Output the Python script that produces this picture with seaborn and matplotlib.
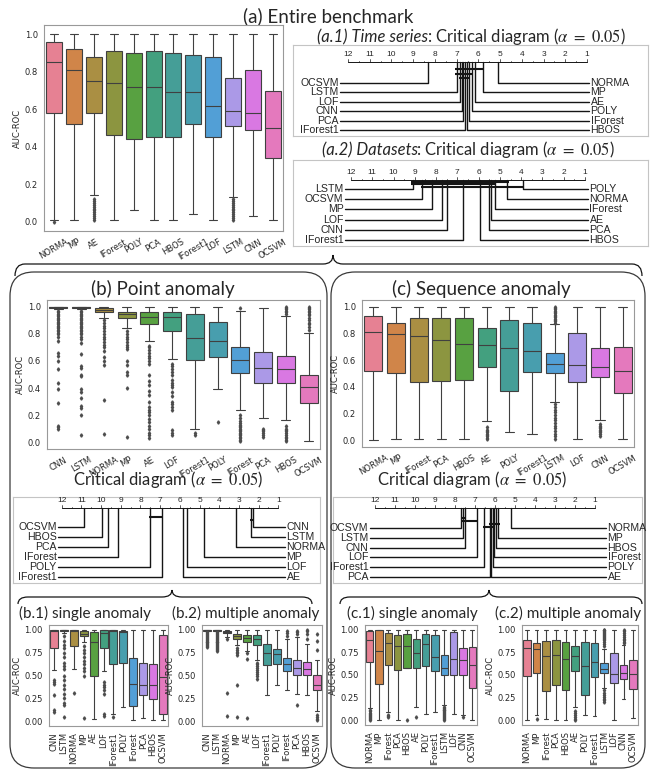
import numpy as np
import pandas as pd
import matplotlib
matplotlib.use("Agg")
import matplotlib.pyplot as plt
import seaborn as sns
from matplotlib.patches import FancyBboxPatch, PathPatch
from matplotlib.path import Path

sns.set_style("white")
plt.rcParams["font.family"] = ["DejaVu Sans"]
plt.rcParams["mathtext.fontset"] = "stix"

W, H = 652, 772
TF = "Lato"             # titles
CDF = "Liberation Sans"  # critical diagram labels
LC = "#151515"

# ---------------- box statistics ----------------
# (a) entire benchmark
a_methods = ["NORMA", "MP", "AE", "IForest", "POLY", "PCA", "HBOS", "IForest1", "LOF", "LSTM", "CNN", "OCSVM"]
a_lo = [0.01, 0.01, 0.14, 0.01, 0.06, 0.01, 0.01, 0.04, 0.01, 0.13, 0.03, 0.01]
a_q1 = [0.58, 0.52, 0.58, 0.46, 0.44, 0.45, 0.45, 0.52, 0.45, 0.51, 0.49, 0.34]
a_med = [0.85, 0.81, 0.75, 0.74, 0.72, 0.72, 0.69, 0.69, 0.62, 0.59, 0.58, 0.50]
a_q3 = [0.96, 0.92, 0.88, 0.91, 0.90, 0.91, 0.90, 0.89, 0.88, 0.765, 0.81, 0.70]
a_hi = [1.0] * 12
a_out = [[0.0], [], [0.12, 0.11, 0.1, 0.09, 0.08, 0.07, 0.06, 0.05, 0.04, 0.03, 0.02, 0.01],
         [], [], [], [], [], [], [0.12, 0.11, 0.1, 0.09, 0.08, 0.07, 0.06, 0.05, 0.04, 0.03, 0.02, 0.01], [], []]

# (b) point anomaly
b_methods = ["CNN", "LSTM", "NORMA", "MP", "AE", "LOF", "IForest1", "POLY", "IForest", "PCA", "HBOS", "OCSVM"]
b_lo = [0.98, 0.98, 0.92, 0.845, 0.75, 0.615, 0.10, 0.39, 0.24, 0.18, 0.165, 0.01]
b_q1 = [0.99, 0.99, 0.958, 0.914, 0.87, 0.82, 0.604, 0.629, 0.514, 0.44, 0.44, 0.292]
b_med = [0.997, 0.996, 0.975, 0.944, 0.921, 0.921, 0.771, 0.744, 0.604, 0.55, 0.54, 0.41]
b_q3 = [1.0, 1.0, 0.99, 0.963, 0.958, 0.958, 0.943, 0.885, 0.70, 0.663, 0.639, 0.50]
b_hi = [1.0, 1.0, 1.0, 1.0, 1.0, 1.0, 1.0, 1.0, 0.97, 0.99, 0.929, 0.81]
b_out = [
    [0.97, 0.96, 0.95, 0.94, 0.93, 0.92, 0.91, 0.9, 0.89, 0.88, 0.87, 0.86, 0.85, 0.84, 0.83, 0.82, 0.81, 0.8,
     0.78, 0.75, 0.66, 0.64, 0.6, 0.54, 0.44, 0.39, 0.29, 0.12, 0.11, 0.1],
    [0.97, 0.96, 0.95, 0.94, 0.93, 0.92, 0.91, 0.9, 0.89, 0.88, 0.87, 0.86, 0.85, 0.84, 0.83, 0.82, 0.81, 0.8,
     0.78, 0.76, 0.73, 0.65, 0.56, 0.55, 0.5, 0.49, 0.39, 0.37, 0.33, 0.27, 0.25, 0.2, 0.05],
    [0.9, 0.88, 0.86, 0.84, 0.82, 0.8, 0.78, 0.76, 0.74, 0.72, 0.7, 0.67, 0.63, 0.6, 0.57, 0.31, 0.06],
    [0.82, 0.8, 0.78, 0.76, 0.74, 0.72, 0.7, 0.69, 0.6, 0.57, 0.52, 0.5, 0.4, 0.04],
    [0.71, 0.7, 0.68, 0.66, 0.64, 0.62, 0.6, 0.58, 0.5, 0.45, 0.42, 0.38, 0.35, 0.3, 0.26, 0.24, 0.22, 0.2,
     0.17, 0.15, 0.12, 0.1, 0.07, 0.05, 0.03],
    [0.58, 0.56, 0.54, 0.52, 0.5, 0.46, 0.44, 0.42, 0.41, 0.37, 0.34, 0.3, 0.28, 0.26, 0.24, 0.09, 0.07, 0.05],
    [0.07, 0.05],
    [0.15],
    [0.99, 0.2, 0.18, 0.16, 0.14, 0.13, 0.12, 0.11, 0.1, 0.09, 0.08, 0.07, 0.06, 0.05, 0.04, 0.03, 0.02, 0.01],
    [0.1, 0.09, 0.08, 0.07, 0.05, 0.04],
    [1.0, 0.99, 0.98, 0.97, 0.96, 0.95, 0.12, 0.1, 0.09, 0.08, 0.07, 0.05, 0.04, 0.03, 0.02, 0.01],
    [1.0, 0.99, 0.98, 0.97, 0.96, 0.95, 0.94, 0.92, 0.9, 0.88, 0.87, 0.85, 0.83],
]

# (c) sequence anomaly
c_methods = ["NORMA", "MP", "IForest", "PCA", "HBOS", "AE", "POLY", "IForest1", "LSTM", "LOF", "CNN", "OCSVM"]
c_lo = [0.0, 0.01, 0.01, 0.01, 0.01, 0.142, 0.06, 0.045, 0.286, 0.01, 0.15, 0.01]
c_q1 = [0.52, 0.50, 0.433, 0.445, 0.453, 0.552, 0.366, 0.512, 0.502, 0.435, 0.473, 0.353]
c_med = [0.813, 0.793, 0.781, 0.754, 0.724, 0.711, 0.694, 0.667, 0.572, 0.562, 0.545, 0.522]
c_q3 = [0.93, 0.88, 0.918, 0.918, 0.918, 0.838, 0.90, 0.88, 0.652, 0.80, 0.689, 0.70]
c_hi = [1.0, 1.0, 1.0, 1.0, 1.0, 1.0, 1.0, 1.0, 0.871, 1.0, 1.0, 1.0]
c_out = [[], [], [], [], [], [0.1, 0.08, 0.07, 0.06, 0.05, 0.04, 0.03, 0.02, 0.01], [], [],
         [1.0, 0.99, 0.98, 0.97, 0.96, 0.95, 0.94, 0.93, 0.92, 0.91, 0.9, 0.89, 0.88,
          0.27, 0.25, 0.23, 0.21, 0.19, 0.17, 0.15, 0.13, 0.11, 0.09, 0.07, 0.05, 0.03, 0.01],
         [], [0.12, 0.11, 0.1, 0.09, 0.08, 0.07, 0.06, 0.05, 0.03], []]

# (b.1) point, single anomaly
b1_lo = [0.564, 0.965, 0.575, 0.86, 0.03, 0.545, 0.08, 0.156, 0.01, 0.04, 0.01, 0.01]
b1_q1 = [0.80, 0.982, 0.82, 0.927, 0.50, 0.80, 0.629, 0.636, 0.164, 0.284, 0.247, 0.084]
b1_med = [0.99, 0.995, 0.98, 0.957, 0.865, 0.964, 0.98, 0.975, 0.41, 0.393, 0.40, 0.484]
b1_q3 = [1.0, 1.0, 1.0, 0.98, 0.975, 1.0, 1.0, 0.985, 0.695, 0.64, 0.622, 0.945]
b1_hi = [1.0] * 12
b1_out = [[0.45, 0.43, 0.41, 0.29, 0.12, 0.1],
          [0.93, 0.88, 0.83, 0.8, 0.75, 0.7, 0.64, 0.6, 0.57, 0.5, 0.45, 0.4, 0.35, 0.3, 0.25, 0.2, 0.18, 0.05],
          [0.31], [0.82, 0.78, 0.74, 0.7, 0.66, 0.62, 0.58, 0.55, 0.5, 0.04], [],
          [0.43, 0.4, 0.37, 0.34, 0.3, 0.08, 0.06], [0.05], [], [], [], [], []]

# (b.2) point, multiple anomaly
b2_lo = [0.98, 0.98, 0.92, 0.83, 0.77, 0.67, 0.284, 0.393, 0.345, 0.30, 0.29, 0.11]
b2_q1 = [0.99, 0.99, 0.958, 0.90, 0.866, 0.83, 0.61, 0.63, 0.55, 0.502, 0.502, 0.338]
b2_med = [0.997, 0.996, 0.975, 0.927, 0.913, 0.90, 0.745, 0.738, 0.629, 0.585, 0.575, 0.393]
b2_q3 = [1.0, 1.0, 0.99, 0.955, 0.94, 0.94, 0.847, 0.793, 0.695, 0.673, 0.647, 0.51]
b2_hi = [1.0, 1.0, 1.0, 1.0, 1.0, 1.0, 1.0, 1.0, 0.90, 0.92, 0.847, 0.665]
b2_out = [[0.97, 0.96, 0.95, 0.94, 0.93, 0.92, 0.91, 0.9, 0.89, 0.88, 0.87, 0.86, 0.85, 0.84, 0.83, 0.82, 0.81],
          [0.97, 0.96, 0.95, 0.94, 0.93, 0.92, 0.91, 0.9, 0.89, 0.88, 0.87, 0.86, 0.85, 0.84, 0.83, 0.82, 0.81,
           0.8, 0.79, 0.78, 0.77],
          [0.9, 0.31, 0.06], [0.8, 0.78, 0.76, 0.74, 0.72, 0.4, 0.05], [0.74, 0.68, 0.04],
          [0.64, 0.62, 0.6, 0.58, 0.56, 0.54, 0.52, 0.5, 0.46], [], [], [0.98, 0.96, 0.93],
          [0.99, 0.97, 0.95, 0.18], [1.0, 0.98, 0.95, 0.9], [0.95, 0.88, 0.78, 0.07, 0.05, 0.03, 0.01]]

# (c.1) sequence, single anomaly
c1_lo = [0.135, 0.01, 0.095, 0.01, 0.01, 0.147, 0.074, 0.092, 0.17, 0.074, 0.055, 0.01]
c1_q1 = [0.643, 0.404, 0.614, 0.559, 0.58, 0.58, 0.60, 0.544, 0.496, 0.496, 0.50, 0.36]
c1_med = [0.882, 0.76, 0.853, 0.82, 0.82, 0.746, 0.846, 0.70, 0.58, 0.68, 0.662, 0.607]
c1_q3 = [0.985, 0.99, 0.963, 0.945, 0.956, 0.90, 0.956, 0.937, 0.717, 0.974, 0.80, 0.81]
c1_hi = [1.0] * 12
c1_out = [[0.11, 0.1, 0.08, 0.07, 0.06, 0.05, 0.04, 0.03, 0.02, 0.01], [], [0.06, 0.05, 0.04], [], [],
          [0.04], [], [],
          [0.15, 0.14, 0.13, 0.12, 0.11, 0.1, 0.09, 0.08, 0.07, 0.06, 0.05, 0.04, 0.03, 0.02, 0.01],
          [], [0.04], []]

# (c.2) sequence, multiple anomaly
c2_lo = [0.0, 0.055, 0.02, 0.01, 0.01, 0.147, 0.062, 0.044, 0.36, 0.01, 0.24, 0.03]
c2_q1 = [0.485, 0.522, 0.32, 0.386, 0.331, 0.544, 0.283, 0.478, 0.522, 0.412, 0.46, 0.349]
c2_med = [0.80, 0.79, 0.706, 0.724, 0.68, 0.71, 0.596, 0.643, 0.566, 0.515, 0.522, 0.507]
c2_q3 = [0.89, 0.853, 0.871, 0.89, 0.864, 0.816, 0.864, 0.857, 0.632, 0.743, 0.614, 0.669]
c2_hi = [1.0, 1.0, 1.0, 1.0, 1.0, 1.0, 1.0, 1.0, 0.79, 1.0, 0.83, 1.0]
c2_out = [[], [0.02], [], [], [], [0.1, 0.08, 0.06, 0.04, 0.02, 0.01], [], [],
          [1.0, 0.99, 0.98, 0.97, 0.96, 0.95, 0.94, 0.93, 0.92, 0.91, 0.9, 0.88, 0.86, 0.84, 0.82,
           0.33, 0.3, 0.28, 0.26, 0.24, 0.22, 0.2],
          [], [1.0, 0.98, 0.96, 0.94, 0.92, 0.9, 0.88, 0.86, 0.85], []]

# ---------------- critical diagrams: average ranks ----------------
a1_left = ["OCSVM", "LSTM", "LOF", "CNN", "PCA", "IForest1"]
a1_left_rank = [8.3, 7.0, 6.85, 6.77, 6.7, 6.62]
a1_right = ["NORMA", "MP", "AE", "POLY", "IForest", "HBOS"]
a1_right_rank = [5.1, 5.8, 6.15, 6.3, 6.45, 6.53]
a1_cliques = [(7.0, 5.8), (7.0, 6.3), (6.85, 6.45)]

a2_left = ["LSTM", "OCSVM", "MP", "LOF", "CNN", "IForest1"]
a2_left_rank = [9.1, 8.66, 8.2, 7.73, 7.5, 6.75]
a2_right = ["POLY", "NORMA", "IForest", "AE", "PCA", "HBOS"]
a2_right_rank = [3.92, 4.65, 5.24, 5.4, 5.5, 5.94]
a2_cliques = [(9.1, 4.65), (9.1, 5.24), (8.66, 3.92)]

bc_left = ["OCSVM", "HBOS", "PCA", "IForest", "POLY", "IForest1"]
bc_left_rank = [10.85, 9.97, 9.63, 9.13, 7.52, 6.92]
bc_right = ["CNN", "LSTM", "NORMA", "MP", "LOF", "AE"]
bc_right_rank = [2.27, 2.4, 3.15, 4.78, 5.66, 5.83]
bc_cliques = [(7.52, 6.92), (2.4, 2.27)]

cc_left = ["OCSVM", "LSTM", "CNN", "LOF", "IForest1", "PCA"]
cc_left_rank = [7.7, 7.58, 7.5, 6.92, 6.55, 6.25]
cc_right = ["NORMA", "MP", "HBOS", "IForest", "POLY", "AE"]
cc_right_rank = [5.2, 5.83, 5.97, 6.05, 6.12, 6.18]
cc_cliques = [(7.58, 7.5), (7.58, 6.92), (6.25, 5.83), (6.55, 6.05)]

palette = sns.color_palette("husl", 12)


def rect(x0, y0, x1, y1):
    return [x0 / W, 1 - y1 / H, (x1 - x0) / W, (y1 - y0) / H]


def expand(lo, q1, med, q3, hi, out):
    # sample whose quartiles / whiskers / fliers reproduce the read box
    below = sorted([lo] + [v for v in out if v < q1])
    above = sorted([hi] + [v for v in out if v > q3])
    k = max(len(below), len(above)) + 1
    return (below + [q1] * (k - len(below)) + [q1] + [med] * (2 * k - 1)
            + [q3] + [q3] * (k - len(above)) + above)


def draw_box(box, methods, lo, q1, med, q3, hi, out, small=False):
    rows = []
    for i, m in enumerate(methods):
        for v in expand(lo[i], q1[i], med[i], q3[i], hi[i], out[i]):
            rows.append((m, v))
    df = pd.DataFrame(rows, columns=["method", "auc"])
    ax = fig.add_axes(rect(*box))
    sns.boxplot(data=df, x="method", y="auc", hue="method", order=methods, hue_order=methods,
                palette=palette, legend=False, ax=ax, linewidth=0.8, fliersize=1.7, saturation=0.75,
                flierprops=dict(marker="d", markerfacecolor="0.3", markeredgecolor="0.3"))
    ax.set_xlabel("")
    ax.set_ylabel("AUC-ROC", fontsize=6, labelpad=2)
    ax.set_ylim(-0.05, 1.05)
    if small:
        ax.set_yticks([0, 0.25, 0.5, 0.75, 1.0])
        ax.set_yticklabels(["0.00", "0.25", "0.50", "0.75", "1.00"])
        ax.tick_params(axis="x", labelrotation=90)
    else:
        ax.set_yticks([0, 0.2, 0.4, 0.6, 0.8, 1.0])
        ax.set_yticklabels(["0.0", "0.2", "0.4", "0.6", "0.8", "1.0"])
        ax.tick_params(axis="x", labelrotation=30)
    ax.tick_params(labelsize=6, pad=1)
    for s in ax.spines.values():
        s.set_color("0.6")
        s.set_linewidth(0.8)
    return ax


def draw_cd(box, x12, x1, axis_y, row0, step, lnames, lranks, rnames, rranks,
            cliques, cl_y0, cl_step, lend, rend):
    L, T, R, B = box
    ax = fig.add_axes(rect(L, T, R, B))
    sp = (x1 - x12) / 11
    ax.set_xlim(12 + (x12 - L) / sp, 1 - (R - x1) / sp)
    ax.set_ylim(B, T)
    ax.set_xticks([])
    ax.set_yticks([])
    for s in ax.spines.values():
        s.set_color("#c4c4c4")
        s.set_linewidth(0.8)
    ax.plot([12, 1], [axis_y, axis_y], color=LC, lw=0.7)
    for r in np.arange(1, 12.01, 0.5):
        tl = 2.8 if r == int(r) else 1.5
        ax.plot([r, r], [axis_y, axis_y - tl], color=LC, lw=0.5)
    for r in range(1, 13):
        ax.text(r, axis_y - 3.5, str(r), ha="center", va="bottom", fontsize=6, family=CDF)
    left_end = 12 + (x12 - lend) / sp
    right_end = 1 - (rend - x1) / sp
    for i, (n, r) in enumerate(zip(lnames, lranks)):
        y = row0 + i * step
        ax.plot([r, r, left_end], [axis_y, y, y], color=LC, lw=1.0)
        ax.text(left_end + 1.5 / sp, y, n, ha="right", va="center", fontsize=7.6, family=CDF)
    for i, (n, r) in enumerate(zip(rnames, rranks)):
        y = row0 + i * step
        ax.plot([r, r, right_end], [axis_y, y, y], color=LC, lw=1.0)
        ax.text(right_end - 1.5 / sp, y, n, ha="left", va="center", fontsize=7.6, family=CDF)
    for i, (a, b) in enumerate(cliques):
        y = cl_y0 + i * cl_step
        ax.plot([a + 0.06, b - 0.06], [y, y], color=LC, lw=1.5, solid_capstyle="butt")
    return ax


def brace(ax, x0, x1, xm, y_end, y_body, y_tip, r=10):
    verts = [(x0, y_end), (x0, y_body), (x0 + r, y_body),
             (xm - r, y_body), (xm, y_body), (xm, y_tip),
             (xm, y_body), (xm + r, y_body),
             (x1 - r, y_body), (x1, y_body), (x1, y_end)]
    codes = [Path.MOVETO, Path.CURVE3, Path.CURVE3,
             Path.LINETO, Path.CURVE3, Path.CURVE3,
             Path.CURVE3, Path.CURVE3,
             Path.LINETO, Path.CURVE3, Path.CURVE3]
    ax.add_patch(PathPatch(Path(verts, codes), fill=False, color=LC, lw=0.9))


def title_pair(ax, x, y, it, rest, size):
    rend = fig.canvas.get_renderer()
    t1 = ax.text(0, y, it, fontsize=size, family=TF, style="italic", va="baseline")
    t2 = ax.text(0, y, rest, fontsize=size, family=TF, va="baseline")
    w1 = t1.get_window_extent(rend).width
    w2 = t2.get_window_extent(rend).width
    x0 = x - (w1 + w2) / 2
    t1.set_x(x0)
    t2.set_x(x0 + w1 - 1.5)


fig = plt.figure(figsize=(W / 100, H / 100), dpi=100)
bg = fig.add_axes([0, 0, 1, 1])
bg.set_xlim(0, W)
bg.set_ylim(H, 0)
bg.axis("off")

CD = r"Critical diagram ($\alpha\ =\ 0.05$)"

# frames and braces
for x0, x1 in [(10, 327), (331, 645)]:
    bg.add_patch(FancyBboxPatch((x0, 272), x1 - x0, 496, boxstyle="round,pad=0,rounding_size=24",
                                fill=False, ec="#3a3a3a", lw=0.9))
brace(bg, 15, 642, 333, 276, 264, 255)
brace(bg, 18, 312, 172, 604, 597, 590)
brace(bg, 340, 642, 489, 604, 597, 590)

# titles
bg.text(328, 16, "(a) Entire benchmark", ha="center", va="center", fontsize=13.5, family=TF)
title_pair(bg, 472, 42, "(a.1) Time series", ": " + CD, 12)
title_pair(bg, 469, 155, "(a.2) Datasets", ": " + CD, 12)
bg.text(163, 289, "(b) Point anomaly", ha="center", va="center", fontsize=13.5, family=TF)
bg.text(481, 289, "(c) Sequence anomaly", ha="center", va="center", fontsize=13.5, family=TF)
bg.text(168, 485, CD, ha="center", va="baseline", fontsize=12, family=TF)
bg.text(472, 485, CD, ha="center", va="baseline", fontsize=12, family=TF)
bg.text(85, 613, "(b.1) single anomaly", ha="center", va="center", fontsize=11, family=TF)
bg.text(246, 613, "(b.2) multiple anomaly", ha="center", va="center", fontsize=11, family=TF)
bg.text(412, 613, "(c.1) single anomaly", ha="center", va="center", fontsize=11, family=TF)
bg.text(568, 613, "(c.2) multiple anomaly", ha="center", va="center", fontsize=11, family=TF)

# boxplots
draw_box((44, 25, 283, 231), a_methods, a_lo, a_q1, a_med, a_q3, a_hi, a_out)
draw_box((47, 300, 320, 449), b_methods, b_lo, b_q1, b_med, b_q3, b_hi, b_out)
draw_box((362, 300, 634, 447), c_methods, c_lo, c_q1, c_med, c_q3, c_hi, c_out)
draw_box((49, 625, 168, 726), b_methods, b1_lo, b1_q1, b1_med, b1_q3, b1_hi, b1_out, small=True)
draw_box((202, 625, 322, 726), b_methods, b2_lo, b2_q1, b2_med, b2_q3, b2_hi, b2_out, small=True)
draw_box((365, 625, 477, 725), c_methods, c1_lo, c1_q1, c1_med, c1_q3, c1_hi, c1_out, small=True)
draw_box((522, 625, 638, 725), c_methods, c2_lo, c2_q1, c2_med, c2_q3, c2_hi, c2_out, small=True)

# critical diagrams
draw_cd((293, 45, 648, 136), 348, 587, 62, 83, 9.4, a1_left, a1_left_rank, a1_right, a1_right_rank,
        a1_cliques, 69, 4.5, 340, 589)
draw_cd((293, 160, 648, 246), 351, 585, 180, 189, 10.2, a2_left, a2_left_rank, a2_right, a2_right_rank,
        a2_cliques, 181.5, 2.8, 345, 588)
draw_cd((13, 497, 320, 583), 61.7, 278.3, 508, 527, 10, bc_left, bc_left_rank, bc_right, bc_right_rank,
        bc_cliques, 517, 3, 58, 285)
draw_cd((333, 497, 642, 583), 375, 595, 508, 528, 9.8, cc_left, cc_left_rank, cc_right, cc_right_rank,
        cc_cliques, 518, 3, 370, 606)

fig.savefig("out.png", dpi=100)
